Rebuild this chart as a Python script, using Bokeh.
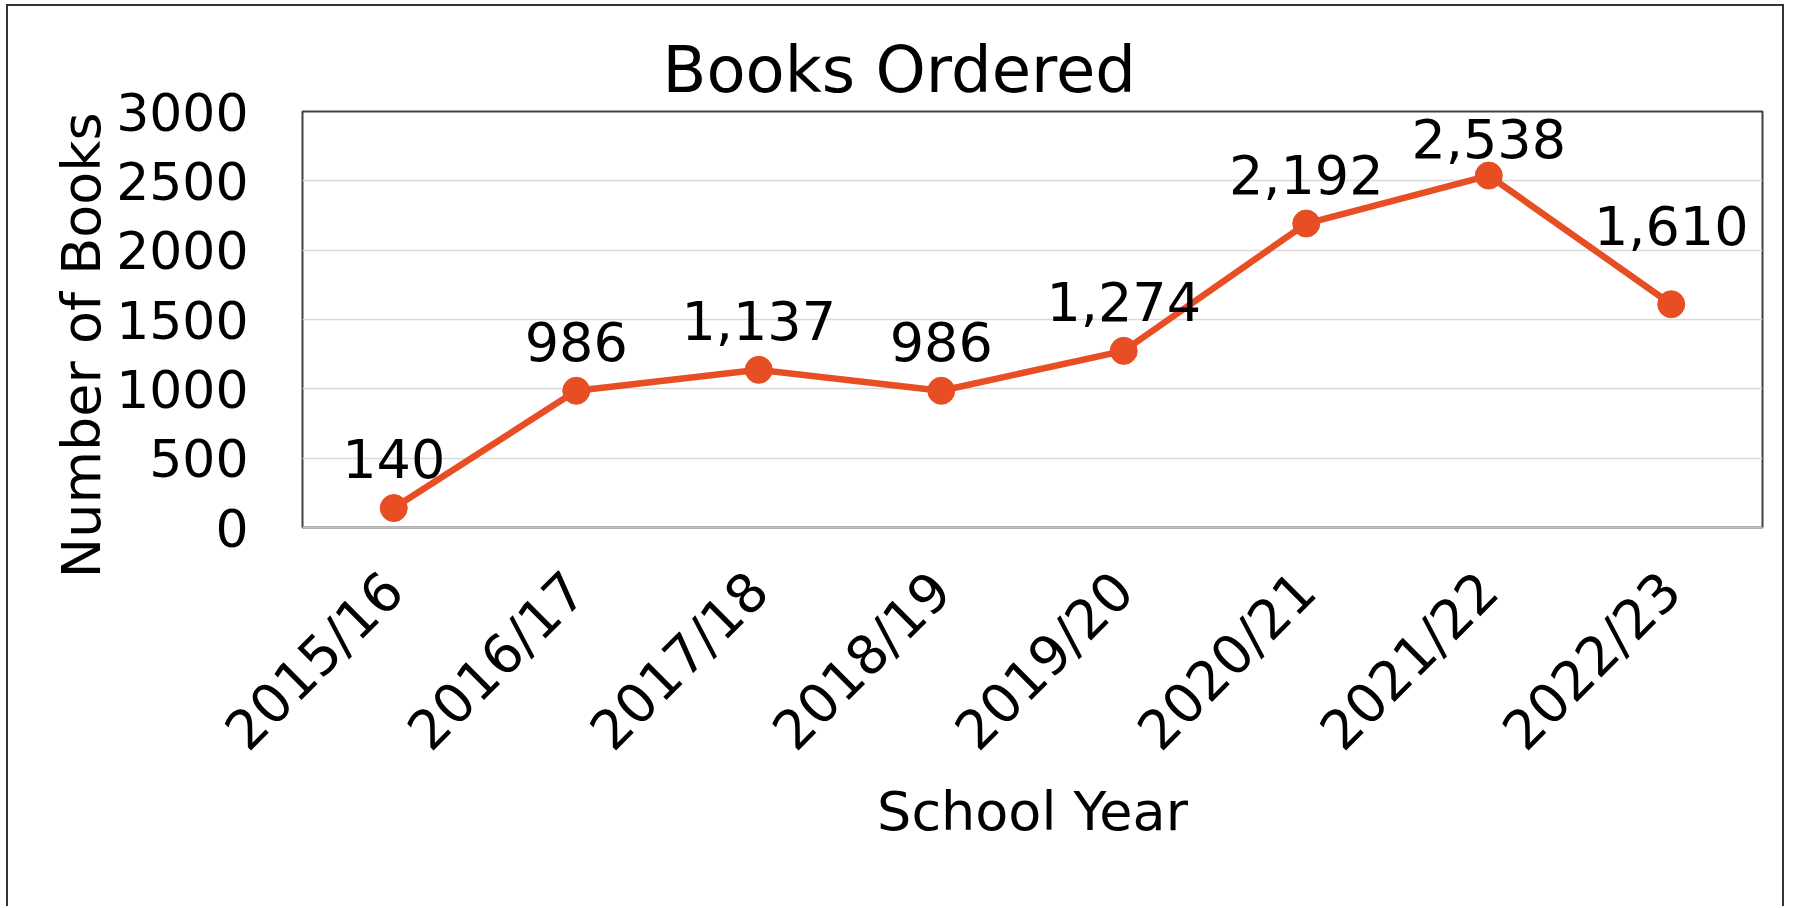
from math import pi
from bokeh.plotting import figure
from bokeh.models import (ColumnDataSource, LabelSet, Title, FactorRange,
                          Range1d, FixedTicker)
from bokeh.core.properties import value
from bokeh.embed import file_html
from bokeh.resources import INLINE

# ---- data ----
years = ["2015/16", "2016/17", "2017/18", "2018/19", "2019/20", "2020/21", "2021/22", "2022/23"]
books = [140, 986, 1137, 986, 1274, 2192, 2538, 1610]
y_ticks = [0, 500, 1000, 1500, 2000, 2500, 3000]
title_text = "Books Ordered"
x_title = "School Year"
y_title = "Number of Books"

# ---- style ----
FONT = "DejaVu Sans"
LINE_C = "#E84E24"
W, H = 1778, 902
FRAME_H = 416
Y_MAX = 3000
LABEL_GAP = 30                 # px between marker centre and label baseline
label_nudge = {"2022/23": 29}  # extra lift the original gives to one label

labels = [f"{v:,}" for v in books]
px_per_unit = FRAME_H / Y_MAX
offsets = [min(LABEL_GAP + label_nudge.get(yr, 0), FRAME_H - v * px_per_unit - 46)
           for yr, v in zip(years, books)]

src = ColumnDataSource(dict(year=years, books=books, label=labels, off=offsets))

p = figure(x_range=FactorRange(*years), y_range=Range1d(0, Y_MAX),
           width=W, height=H, output_backend="svg", toolbar_location=None,
           min_border_left=294, min_border_right=24, min_border_top=105,
           min_border_bottom=381)
p.styles = {"margin-left": "6px", "margin-top": "4px",
            "border-left": "2px solid #333333", "border-top": "2px solid #333333",
            "border-right": "2px solid #333333"}

p.title = Title(text=title_text, align="left", offset=360, text_font_size="64px",
                text_font=FONT, text_font_style="normal", text_color="black", standoff=10)

p.outline_line_color = "#404040"
p.outline_line_width = 2
p.background_fill_color = "white"
p.border_fill_color = "white"

p.xgrid.grid_line_color = None
p.ygrid.grid_line_color = "#d9d9d9"
p.ygrid.grid_line_width = 1.5

p.yaxis.ticker = FixedTicker(ticks=y_ticks)
p.yaxis.axis_line_color = None
p.yaxis.major_tick_line_color = None
p.yaxis.minor_tick_line_color = None
p.yaxis.major_label_standoff = 48
p.yaxis.major_label_text_font = FONT
p.yaxis.major_label_text_font_size = "52px"
p.yaxis.major_label_text_color = "black"
# trailing no-break spaces nudge the centred title slightly downwards, as in the original
p.yaxis.axis_label = y_title + "\u00a0\u00a0\u00a0"
p.yaxis.axis_label_standoff = 0
p.yaxis.axis_label_text_font = FONT
p.yaxis.axis_label_text_font_size = "54px"
p.yaxis.axis_label_text_font_style = "normal"
p.yaxis.axis_label_text_color = "black"

p.xaxis.axis_line_color = "#bfbfbf"
p.xaxis.axis_line_width = 2
p.xaxis.major_tick_line_color = None
p.xaxis.minor_tick_line_color = None
p.xaxis.major_label_orientation = pi / 4
p.xaxis.major_label_standoff = 48
p.xaxis.major_label_text_font = FONT
p.xaxis.major_label_text_font_size = "54px"
p.xaxis.major_label_text_color = "black"
p.xaxis.axis_label = x_title
p.xaxis.axis_label_standoff = -8
p.xaxis.axis_label_text_font = FONT
p.xaxis.axis_label_text_font_size = "54px"
p.xaxis.axis_label_text_font_style = "normal"
p.xaxis.axis_label_text_color = "black"

p.line(x="year", y="books", source=src, line_color=LINE_C, line_width=6.5)
p.scatter(x="year", y="books", source=src, size=27, fill_color=LINE_C, line_color=LINE_C)

p.add_layout(LabelSet(x="year", y="books", text="label", source=src, y_offset="off",
                      text_align="center", text_baseline="alphabetic",
                      text_font=value(FONT), text_font_size=value("54px"),
                      text_color=value("black")))

open("out.html", "w").write(file_html(p, INLINE))
